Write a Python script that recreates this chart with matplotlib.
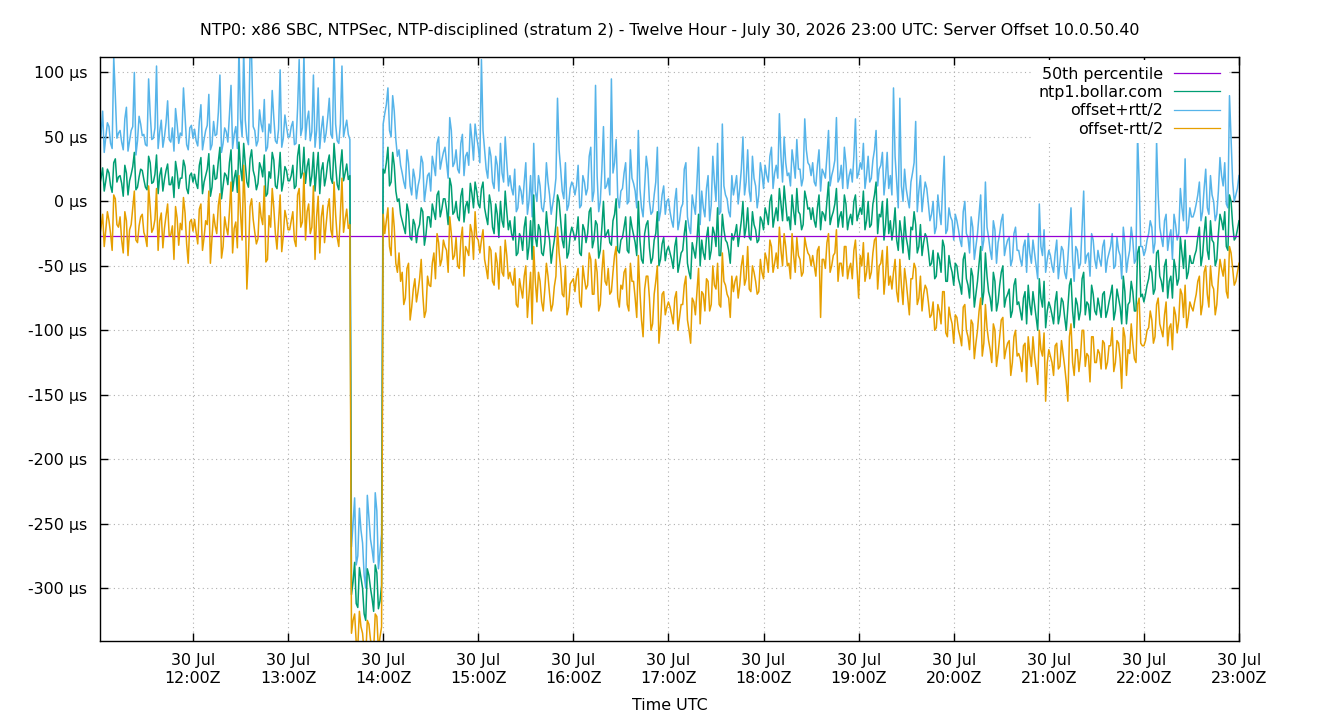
import numpy as np
import matplotlib
matplotlib.use('Agg')
import matplotlib.pyplot as plt
import matplotlib.dates as mdates
from matplotlib.ticker import FuncFormatter, MultipleLocator

title = ('NTP0: x86 SBC, NTPSec, NTP-disciplined (stratum 2) - Twelve Hour - '
         'July 30, 2026 23:00 UTC: Server Offset 10.0.50.40')

# one sample per minute, 11:01 -> 23:00 UTC (values in microseconds)
# *_odd = 11:01, 11:03, ... 22:59    *_even = 11:02, 11:04, ... 23:00
start = np.datetime64('2026-07-30T11:01')
median_offset = -27

plus_odd = [  # offset+rtt/2
    44, 70, 50, 58, 41, 82, 53, 46, 64, 39, 55, 100, 47, 60, 52, 43, 68, 49, 105, 54, 42, 61, 48, 57, 72, 45, 51, 66, 40, 59,
    56, 43, 75, 48, 59, 40, 62, 52, 98, 45, 54, 67, 41, 58, 120, 50, 63, 44, 112, 55, 47, 60, 79, 42, 53, 65, 45, 102, 49, 58,
    50, 62, 45, 110, 57, 48, 70, 54, 42, 88, 56, 46, 65, 52, 118, 47, 60, 50, 63, 48,
    -250, -282, -238, -265, -300, -245, -270, -226, -285, -258,
    68, 88, 50, 70, 35, 28, 15, 40, 12, 25, 2, 18, 30, 10, 22, 35, 20, 50, 32, 42, 18, 55, 30, 25, 45, 20, 38, 60, 32, 50,
    30, 55, 25, 42, 15, 35, 8, 22, 50, 12, 10, 25, -5, 8, 15, -10, 20, 45, 0, 12, -8, 30, 5, -2, 18, 40, 8, 30, -3, 15,
    5, 28, -3, 15, 10, 42, 8, 20, 0, 58, 12, 5, 22, 48, -5, 10, 30, 0, 18, 8, 55, -5, 12, 25, -10, 5, 42, -8, 12, 0,
    -8, -20, 10, -15, -2, 30, -20, 5, -10, 42, 8, -12, 20, -3, 15, 45, -8, 12, 2, -12, 5, 20, 10, 50, 15, 8, 35, 12, 5, 22,
    28, 15, 42, 22, 18, 35, 50, 20, 12, 30, 48, 25, 18, 40, 28, 30, 12, 40, 25, 18, 55, 20, 32, 15, 28, 42, 10, 25, 35, 18,
    30, 45, 20, 15, 32, 55, 25, 38, 18, 10, 5, 35, -5, 12, 25, 2, 15, 30, -8, 20, 5, 10, -15, 0, -20, -8, 10, -25, -5, -15,
    -10, -22, -35, 0, -28, -12, -45, -25, 5, -30, -20, -38, -15, -48, -25, -10, -35, -28, -45, -20, -38, -50, -30, -25, -48, -40, -60, -35, -22, -45,
    -42, -55, -30, -48, -38, -60, -25, -45, -35, -52, -20, -48, -40, -25, -45, -38, -50, -30, -45, -35, -52, -28, -42, -20, -55, -38, -30, -45, 15, -35,
    -38, -25, -20, -32, 5, -28, -15, -38, -22, -10, -30, 10, -15, -25, -5, -12, -2, 15, -8, 25, -10, 5, -15, 8, 20, 30, -5, 48, 0, 10,
]
plus_even = [
    52, 38, 61, 45, 112, 49, 55, 40, 73, 47, 58, 36, 66, 51, 44, 95, 48, 57, 41, 63, 50, 78, 46, 39, 60, 53, 88, 44, 57, 49,
    47, 62, 40, 55, 83, 44, 51, 69, 38, 57, 46, 90, 52, 41, 64, 118, 49, 115, 58, 43, 71, 54, 39, 60, 86, 47, 56, 42, 67, 50,
    58, 44, 72, 51, 115, 63, 47, 98, 55, 41, 66, 53, 80, 49, 60, 45, 105, 57, 52,
    -268, -230, -275, -255, -290, -228, -262, -280, -240, -272, 60,
    75, 55, 82, 48, 40, 22, 10, 30, 5, 18, 12, 35, 0, 20, 8, 28, 45, 25, 38, 30, 65, 27, 40, 22, 52, 35, 28, 48, 60, 42,
    110, 40, 18, 35, 10, 28, 45, 15, 30, 20, 5, -8, 12, -2, 30, 0, -12, 8, 20, -5, 3, 15, -10, 6, 80, 25, 2, -7, 10, 12,
    12, -5, 20, 5, 35, 0, 90, -8, 25, 10, 18, 95, 30, 3, 8, 22, -2, 40, 14, -5, 10, -12, 35, 0, -8, 15, -15, 5, -10, 2,
    -15, 0, -22, -5, 25, -12, -25, -3, 15, -18, -5, 10, -15, 35, 0, -10, 60, 5, -8, 20, 12, -2, 25, 5, 40, 0, 18, -5, 30, 10,
    20, 35, 10, 28, 68, 15, 30, 22, 40, 18, 25, 12, 64, 30, 20, 15, 28, 8, 22, 35, 12, 25, 65, 18, 10, 30, 20, 15, 64, 22,
    25, 10, 35, 18, 40, 12, 28, 5, 38, 20, 88, 15, 80, 0, 10, -5, 22, 62, 8, -8, 15, -2, -10, -25, 5, -18, 35, -22, -12, -30,
    -15, -30, -8, -25, -40, -20, -35, -10, -38, 15, -28, -45, -22, -32, -15, -42, -30, -50, -25, -38, -45, -35, -55, -40, -30, -50, -2, -42, -55, -38,
    -50, -40, -60, -35, -55, -45, -5, -62, -38, -48, 8, -42, -58, -30, -52, -45, -35, -55, -40, -25, -50, -38, -60, -32, -45, -20, -48, 52, -35, -42,
    -30, -15, -40, 47, -20, -35, -10, -28, -45, -18, -25, -5, 33, -20, -12, -8, 5, -15, 10, -5, 20, 0, -10, 34, 12, -2, 82, 15, 5, 20,
]

offset_odd = [  # ntp1.bollar.com
    12, 26, 16, 22, 7, 33, 19, 14, 28, 5, 21, 38, 11, 25, 17, 9, 30, 15, 36, 20, 8, 24, 13, 19, 31, 10, 18, 27, 6, 22,
    21, 10, 34, 15, 25, 4, 28, 18, 42, 12, 20, 30, 8, 24, 46, 16, 29, 11, 40, 19, 14, 26, 36, 6, 18, 32, 10, 38, 15, 24,
    16, 28, 12, 44, 22, 14, 33, 20, 8, 38, 24, 12, 30, 18, 45, 13, 27, 16, 29, 20,
    -295, -312, -284, -300, -325, -290, -308, -282, -316, -298,
    22, 42, 15, 28, 0, -10, -20, -2, -28, -14, -32, -18, -8, -26, -12, -2, -14, 8, -6, 2, -18, 12, -8, -12, 4, -16, 0, 14, -5, 8,
    -5, 15, -12, 5, -20, -2, -28, -15, 8, -22, -25, -12, -40, -28, -20, -45, -15, 5, -35, -22, -42, -8, -30, -38, -18, 0, -30, -10, -40, -20,
    -30, -12, -42, -22, -25, -5, -30, -18, -38, 0, -25, -32, -15, 2, -40, -28, -12, -40, -20, -32, 0, -45, -25, -15, -48, -30, -8, -45, -28, -38,
    -40, -52, -28, -48, -38, -15, -55, -32, -44, -10, -30, -45, -20, -38, -25, -5, -42, -22, -32, -48, -30, -18, -25, 0, -20, -28, -8, -22, -30, -15,
    -5, -18, 5, -12, -15, -2, 12, -15, -22, -8, 10, -10, -18, 2, -5, -5, -20, 5, -8, -15, 15, -12, -2, -20, -8, 5, -22, -10, 0, -15,
    -5, 8, -15, -20, -2, 15, -10, 0, -18, -25, -30, -5, -38, -25, -12, -35, -20, -8, -40, -18, -32, -28, -50, -38, -58, -45, -30, -62, -42, -55,
    -48, -60, -72, -40, -65, -52, -82, -62, -35, -70, -58, -75, -55, -85, -65, -50, -75, -68, -85, -60, -78, -92, -70, -65, -88, -80, -100, -75, -62, -85,
    -82, -95, -70, -88, -78, -100, -65, -85, -75, -92, -60, -88, -80, -65, -85, -75, -90, -70, -85, -72, -92, -68, -82, -58, -95, -78, -70, -85, -35, -72,
    -72, -60, -55, -68, -38, -62, -50, -75, -58, -45, -65, -28, -52, -60, -42, -48, -38, -20, -42, -12, -45, -30, -50, -25, -15, -8, -38, 0, -30, -22,
]
offset_even = [
    18, 8, 25, 12, 30, 15, 20, 4, 22, 16, 27, 9, 19, 24, 11, 35, 14, 21, 6, 26, 17, 29, 13, 3, 23, 18, 32, 10, 20, 15,
    14, 28, 6, 20, 37, 11, 17, 31, 2, 22, 13, 40, 18, 7, 26, 45, 15, 33, 24, 9, 30, 19, 4, 23, 38, 12, 21, 8, 27, 16,
    20, 10, 35, 18, 42, 27, 12, 38, 24, 6, 30, 19, 36, 14, 28, 9, 40, 22, 17,
    -305, -280, -315, -292, -320, -285, -300, -318, -288, -310, 25,
    30, 12, 38, 8, 2, -15, -25, -8, -30, -18, -22, -5, -34, -12, -20, -8, 5, -12, 2, -6, 18, -10, 0, -15, 10, -4, -9, 6, 15, -2,
    10, -5, -18, -2, -25, -10, 0, -20, -8, -15, -30, -42, -25, -38, -12, -35, -45, -28, -18, -40, -32, -22, -48, -30, 5, -15, -36, -44, -26, -24,
    -25, -40, -18, -32, -8, -36, -15, -44, -20, -28, -22, -34, -10, -38, -30, -20, -38, -12, -26, -42, -30, -48, -18, -36, -44, -25, -50, -33, -46, -35,
    -45, -35, -55, -40, -25, -48, -60, -38, -30, -50, -40, -28, -45, -20, -35, -42, -10, -30, -38, -25, -25, -35, -15, -28, -5, -30, -18, -32, -12, -22,
    -10, 0, -20, -5, 10, -15, -2, -12, 5, -18, -8, -22, 8, -6, -14, -15, -5, -22, -10, 0, -18, -8, 10, -12, -20, -2, -14, -18, 5, -10,
    -10, -22, 0, -18, 5, -25, -12, -30, 2, -15, -20, -30, -15, -40, -28, -45, -22, -18, -35, -42, -25, -38, -48, -60, -40, -55, -35, -62, -50, -65,
    -50, -65, -45, -60, -75, -58, -72, -48, -80, -40, -70, -85, -62, -78, -55, -82, -72, -90, -65, -80, -85, -75, -95, -80, -70, -90, -60, -82, -98, -78,
    -88, -78, -95, -75, -90, -82, -60, -98, -80, -85, -55, -78, -92, -72, -88, -82, -72, -90, -78, -65, -85, -75, -95, -70, -80, -62, -85, -40, -74, -78,
    -65, -50, -72, -40, -58, -70, -45, -62, -75, -52, -60, -40, -30, -55, -48, -42, -28, -50, -25, -38, -15, -32, -45, -10, -22, -35, 5, -18, -28, -15,
]

minus_odd = [  # offset-rtt/2
    -28, -10, -22, -15, -38, 2, -20, -30, -8, -42, -18, 8, -32, -12, -24, -35, -5, -21, 10, -15, -36, -11, -27, -19, -4, -34, -22, -9, -48, -14,
    -14, -33, -2, -28, -18, -48, -10, -25, 6, -35, -20, -8, -40, -16, 20, -30, -6, -42, 2, -24, -29, -12, 12, -45, -20, -5, -37, 5, -27, -13,
    -22, -8, -35, 10, -16, -30, -2, -20, -45, 4, -12, -32, -5, -22, 15, -28, -10, -24, -6, -18,
    -325, -342, -318, -335, -352, -328, -345, -320, -348, -330,
    -25, -5, -42, -20, -55, -62, -80, -52, -92, -68, -78, -60, -72, -85, -65, -48, -60, -32, -45, -35, -55, -25, -42, -50, -30, -58, -38, -18, -45, -28,
    -40, -22, -52, -35, -62, -40, -68, -55, -30, -60, -62, -52, -82, -68, -58, -90, -55, -35, -78, -62, -85, -48, -72, -80, -58, -40, -72, -50, -82, -62,
    -70, -52, -82, -60, -65, -45, -72, -55, -80, -38, -65, -72, -55, -35, -82, -68, -52, -85, -62, -75, -42, -92, -68, -58, -100, -72, -50, -95, -70, -82,
    -82, -95, -70, -90, -80, -58, -100, -75, -88, -52, -70, -85, -62, -80, -65, -48, -82, -62, -72, -90, -70, -58, -65, -42, -60, -68, -50, -62, -70, -55,
    -40, -55, -35, -48, -52, -38, -25, -50, -60, -42, -28, -45, -55, -35, -42, -42, -58, -35, -45, -52, -25, -50, -40, -62, -48, -35, -60, -48, -38, -52,
    -42, -32, -55, -60, -40, -28, -50, -38, -58, -65, -68, -45, -78, -65, -52, -75, -60, -48, -80, -58, -72, -68, -90, -78, -98, -85, -70, -102, -82, -95,
    -88, -100, -112, -80, -105, -92, -122, -100, -75, -110, -98, -115, -95, -128, -105, -90, -115, -108, -125, -100, -118, -132, -110, -105, -128, -120, -142, -115, -102, -125,
    -120, -135, -110, -128, -118, -140, -105, -125, -115, -132, -100, -128, -120, -105, -125, -115, -130, -110, -125, -112, -132, -108, -122, -98, -135, -118, -110, -125, -75, -112,
    -108, -98, -92, -105, -75, -100, -88, -112, -95, -82, -102, -68, -90, -98, -78, -85, -72, -58, -80, -50, -82, -65, -88, -60, -52, -45, -75, -40, -65, -55,
]
minus_even = [
    -20, -35, -8, -25, 5, -18, -12, -40, -15, -22, -5, -30, -19, -10, -28, 12, -24, -14, -38, -9, -21, -2, -26, -45, -13, -17, 3, -33, -16, -23,
    -24, -6, -38, -15, 8, -28, -19, -3, -44, -12, -26, 15, -21, -36, -9, 28, -68, -4, -14, -33, -1, -18, -47, -11, 10, -25, -16, -39, -7, -22,
    -15, -30, 5, -20, 22, -8, -25, 12, -12, -40, -3, -18, 2, -28, -10, -35, 18, -14, -21,
    -335, -320, -345, -330, -350, -325, -340, -348, -322, -338, -10,
    -15, -35, -5, -48, -40, -55, -75, -48, -82, -60, -70, -45, -90, -58, -66, -40, -25, -50, -30, -38, -12, -45, -28, -52, -20, -35, -42, -24, -8, -30,
    -30, -45, -60, -38, -65, -48, -35, -58, -42, -55, -65, -80, -60, -75, -50, -72, -95, -62, -55, -78, -68, -58, -85, -66, -20, -52, -74, -88, -64, -60,
    -58, -78, -50, -68, -40, -72, -45, -85, -55, -62, -52, -70, -42, -75, -65, -55, -80, -48, -62, -90, -70, -105, -58, -75, -95, -62, -110, -72, -88, -78,
    -88, -75, -100, -80, -65, -92, -110, -78, -70, -95, -72, -60, -85, -50, -68, -80, -40, -65, -75, -58, -62, -75, -50, -65, -35, -70, -55, -72, -45, -60,
    -45, -30, -55, -40, -20, -50, -35, -48, -25, -55, -42, -58, -28, -40, -50, -50, -38, -90, -45, -32, -55, -42, -22, -48, -58, -35, -52, -60, -30, -75,
    -50, -62, -40, -55, -30, -68, -48, -72, -35, -58, -55, -70, -45, -80, -62, -88, -60, -52, -75, -85, -65, -78, -88, -100, -80, -95, -70, -105, -90, -110,
    -90, -105, -82, -100, -115, -95, -110, -85, -120, -80, -108, -125, -100, -118, -92, -122, -110, -135, -105, -120, -122, -112, -140, -118, -105, -130, -100, -120, -155, -115,
    -125, -112, -130, -108, -128, -155, -95, -135, -115, -120, -100, -118, -140, -105, -125, -118, -108, -130, -112, -98, -125, -110, -145, -105, -115, -95, -122, -80, -110, -112,
    -100, -85, -110, -80, -95, -105, -78, -98, -115, -88, -92, -72, -65, -90, -82, -78, -62, -88, -55, -72, -50, -68, -80, -45, -58, -70, -35, -52, -62, -48,
]

offset_plus = np.column_stack([plus_odd, plus_even]).ravel()
offset = np.column_stack([offset_odd, offset_even]).ravel()
offset_minus = np.column_stack([minus_odd, minus_even]).ravel()
times = start + np.arange(len(offset)) * np.timedelta64(1, 'm')

fig = plt.figure(figsize=(13.4, 7.2), dpi=100)
ax = fig.add_axes([100/1340, 1-641/720, (1239-100)/1340, (641-57)/720])

# drawing order: blue, green, median, orange (orange ends up on top)
ax.plot(times, offset_plus, color='#56b4e9', lw=1.1, label='offset+rtt/2')
ax.plot(times, offset, color='#009e73', lw=1.1, label='ntp1.bollar.com')
ax.axhline(median_offset, color='#9400d3', lw=0.9, label='50th percentile')
ax.plot(times, offset_minus, color='#e69f00', lw=1.1, label='offset-rtt/2')

ax.set_xlim(np.datetime64('2026-07-30T11:01:20'), np.datetime64('2026-07-30T23:00'))
ax.set_ylim(-341, 112)

ax.xaxis.set_major_locator(mdates.HourLocator(byhour=range(12, 24)))
ax.xaxis.set_major_formatter(mdates.DateFormatter('%d %b\n%H:%MZ'))
ax.yaxis.set_major_locator(MultipleLocator(50))
ax.yaxis.set_major_formatter(FuncFormatter(lambda v, p: '%d µs' % v))

ax.grid(True, color='#b0b0b0', linestyle=(0, (1, 3)), lw=0.8)
ax.tick_params(direction='in', length=6, width=1, top=True, right=True,
               labelsize=11.4, pad=9, colors='black')
for s in ax.spines.values():
    s.set_linewidth(1)

ax.set_title(title, fontsize=11.4, pad=16)
ax.set_xlabel('Time UTC', fontsize=11.4, labelpad=9)

h, l = ax.get_legend_handles_labels()
order = [2, 1, 0, 3]
leg = ax.legend([h[i] for i in order], [l[i] for i in order], loc='upper right',
                bbox_to_anchor=(0.992, 1.0), markerfirst=False, fontsize=11.4,
                handlelength=2.9, handletextpad=0.7, labelspacing=0.22,
                borderaxespad=0.2, fancybox=False, framealpha=1)
leg.get_frame().set_edgecolor('none')
for line in leg.get_lines():
    line.set_linewidth(0.9)
for col in leg._legend_handle_box.get_children():
    col.align = 'right'

fig.savefig('out.png', dpi=100)
